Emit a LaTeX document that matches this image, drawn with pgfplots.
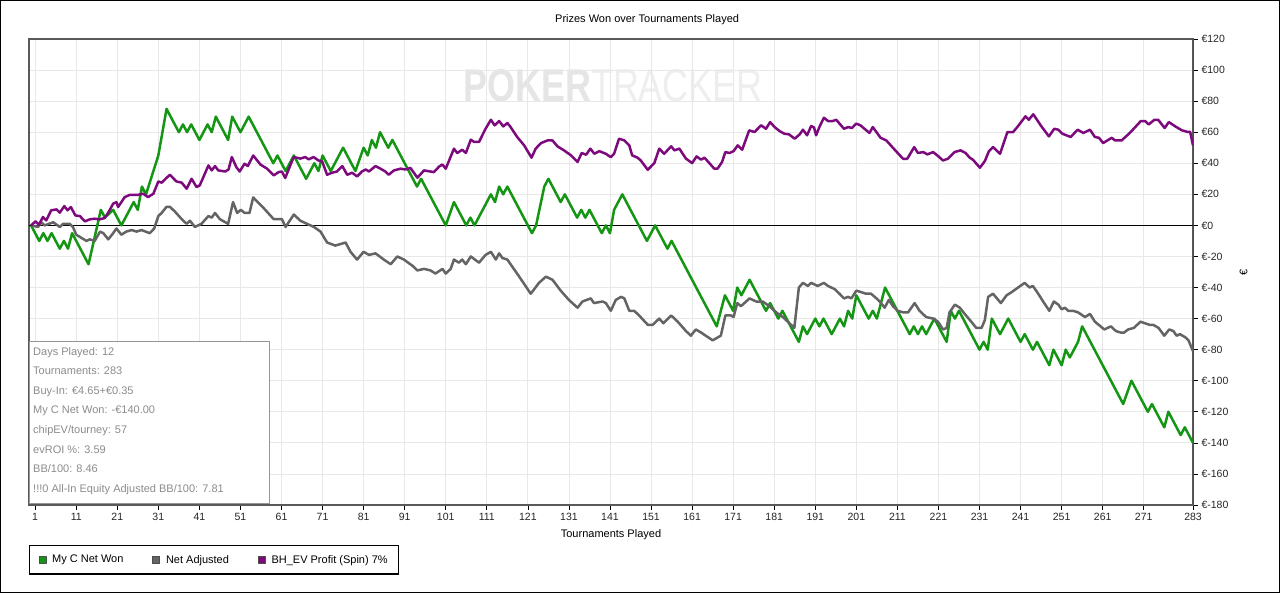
\documentclass[border=0pt]{standalone}
\usepackage{fontspec}
\setmainfont{Liberation Sans}
\usepackage{pgfplots}
\pgfplotsset{compat=1.18}
\definecolor{mygreen}{RGB}{20,150,20}
\definecolor{mygray}{RGB}{100,100,100}
\definecolor{mypurple}{RGB}{125,10,125}
\definecolor{gridgray}{RGB}{232,232,232}
\definecolor{infogray}{RGB}{140,140,140}
\begin{document}
\begin{tikzpicture}
\useasboundingbox (0pt,0pt) rectangle (1280pt,593pt);
\fill[white] (0pt,0pt) rectangle (1280pt,593pt);
\node[anchor=center, inner sep=0pt, xscale=0.78] at (613pt,507pt)
  {\fontsize{46}{46}\selectfont\textcolor[RGB]{229,229,229}{\bfseries POKER}\textcolor[RGB]{238,238,238}{TRACKER}};
\begin{axis}[
  at={(29pt,88pt)}, anchor=south west,
  scale only axis, width=1164pt, height=466pt,
  xmin=-0.5, xmax=283, ymin=-180, ymax=120,
  xtick={1,11,21,31,41,51,61,71,81,91,101,111,121,131,141,151,161,171,181,191,201,211,221,231,241,251,261,271,283},
  ytick={-180,-160,-140,-120,-100,-80,-60,-40,-20,0,20,40,60,80,100,120},
  yticklabels={€-180,€-160,€-140,€-120,€-100,€-80,€-60,€-40,€-20,€0,€20,€40,€60,€80,€100,€120},
  /pgf/number format/assume math mode=true,
  xtick pos=left, ytick pos=right, yticklabel pos=right,
  tick align=outside, major tick length=5pt,
  tick style={black, line width=0.7pt},
  xmajorgrids, ymajorgrids,
  major grid style={gridgray, line width=0.8pt},
  axis line style={draw=black!65, line width=1.2pt},
  tick label style={font=\fontsize{10.5}{12}\selectfont, text=black!85},
  title={Prizes Won over Tournaments Played},
  every axis title/.style={at={(axis description cs:0.531,1.0408)}, anchor=center, font=\fontsize{11}{13}\selectfont},
  xlabel={Tournaments Played},
  every axis x label/.style={at={(axis description cs:0.5,-0.0644)}, anchor=center, font=\fontsize{11}{13}\selectfont},
  ylabel={€},
  every axis y label/.style={at={(axis description cs:1.0434,0.5)}, anchor=center, rotate=90, font=\fontsize{11}{13}\selectfont},
  legend style={at={(axis description cs:0,-0.0858)}, anchor=north west, legend columns=3,
    draw=black, line width=1.2pt, font=\fontsize{11}{13}\selectfont, inner ysep=7.5pt, inner xsep=9pt,
    /tikz/every even column/.append style={column sep=27pt}},
  legend cell align=left,
  legend image code/.code={\filldraw[#1, line width=0.6pt, draw=black!70] (0pt,-3.5pt) rectangle (7pt,3.5pt); \path (10pt,0pt);},
]
\addplot[black, line width=0.8pt, forget plot] coordinates {(-0.5,0) (283,0)};
\addplot[mygreen, line width=2.5pt, line join=round] coordinates {
(0,0)(2,-10)(3,-5)(4,-10)(5,-5)(7,-15)(8,-10)(9,-15)(10,-5)(11,-10)(14,-25)(17,10)(18,5)(20,10)(22,0)(25,15)(26,10)(27,25)(28,20)(31,45)(33,75)(36,60)(37,65)(38,60)(39,65)(41,55)(43,65)(44,60)(45,70)(48,55)(49,70)(51,60)(53,70)(59,40)(60,45)(62,35)(64,45)(67,30)(69,40)(70,35)(71,45)(73,35)(76,50)(79,35)(81,50)(82,45)(83,55)(84,50)(85,60)(87,50)(88,55)(94,25)(95,30)(101,0)(103,15)(106,0)(107,5)(108,0)(112,20)(113,15)(114,25)(115,20)(116,25)(122,-5)(123,0)(125,25)(126,30)(129,15)(130,20)(133,5)(134,10)(135,5)(136,10)(139,-5)(140,0)(141,-5)(142,10)(144,20)(150,-10)(152,0)(155,-15)(156,-10)(167,-65)(169,-45)(171,-55)(172,-40)(173,-45)(175,-35)(178,-50)(179,-55)(180,-50)(182,-60)(183,-55)(187,-75)(188,-65)(189,-70)(191,-60)(192,-65)(193,-60)(195,-70)(197,-60)(198,-65)(199,-55)(200,-60)(201,-45)(204,-60)(205,-55)(206,-60)(208,-40)(214,-70)(215,-65)(216,-70)(217,-65)(218,-70)(220,-60)(223,-75)(224,-55)(225,-60)(226,-55)(231,-80)(232,-75)(233,-80)(234,-60)(236,-70)(238,-60)(241,-75)(242,-70)(244,-80)(245,-75)(248,-90)(249,-80)(251,-90)(252,-80)(253,-85)(255,-75)(256,-65)(266,-115)(268,-100)(272,-120)(273,-115)(276,-130)(277,-120)(280,-135)(281,-130)(283,-140)
};
\addlegendentry{My C Net Won}
\addplot[mygray, line width=2.5pt, line join=round] coordinates {
(0,0)(1.7,-1)(2.5,2)(3.3,0)(5.4,2)(7,-1)(7.8,1)(9.4,1)(10.2,-1)(11,-6)(13.5,-10)(14.3,-9)(15.5,-10)(16.8,-4)(17.6,-5)(18.8,-9)(20,-5)(20.8,-2)(22,-6)(23.2,-4)(24.5,-3)(25.7,-4)(26.9,-3)(28.9,-5)(30,-2)(31,6)(31.8,8)(33,12)(33.8,12)(35,9)(36.7,4)(37.9,1)(38.7,3)(39.9,-1)(41.5,1)(43.2,6)(44,5)(44.8,8)(46,4)(48,1)(49.2,15)(50.2,8)(51.1,10)(52,8)(53.2,8)(54.1,18)(56.7,11)(59.1,4)(61.1,4)(62,-1)(64,7)(65.6,3)(67.2,1)(68.9,-1)(70.5,-4)(72.1,-11)(74.1,-13)(75.4,-12)(76.6,-11)(77.8,-17)(79.4,-22)(81,-17)(82.3,-19)(83.9,-18)(85.9,-22)(87.6,-25)(89.2,-20)(90.8,-22)(92.9,-26)(94.1,-29)(95.7,-28)(97.3,-29)(98.5,-31)(100.2,-28)(101,-31)(102.2,-28)(103,-22)(104.2,-24)(105,-22)(105.9,-25)(107.1,-20)(109.1,-24)(110.7,-19)(112,-17)(113.2,-22)(114,-18)(114.8,-21)(116,-22)(118.9,-33)(121.7,-44)(123.7,-37)(125.4,-33)(127,-35)(129,-42)(131,-48)(133.1,-53)(134.3,-49)(136.3,-47)(137.1,-50)(139.2,-49)(140,-50)(141.2,-55)(142.4,-48)(143.7,-46)(144.5,-47)(145.7,-55)(146.9,-55)(148.1,-58)(150.2,-64)(151.4,-64)(153,-60)(154,-63)(155.9,-58)(157.5,-62)(159.5,-68)(160.7,-71)(161.9,-67)(163.2,-69)(166,-74)(168,-71)(169.1,-58)(170.5,-58)(171.1,-59)(172,-50)(172.9,-52)(175,-47)(176.6,-49)(178.2,-49)(179.8,-52)(181.5,-56)(183.1,-59)(185.9,-66)(187,-40)(188,-37)(189.2,-39)(190,-37)(191.6,-39)(193.1,-37)(194.1,-39)(195.7,-41)(196.9,-44)(198,-47)(199,-46)(199.8,-47)(201,-42)(202.2,-43)(203.4,-44)(204.6,-44)(205.9,-47)(206.7,-49)(207.9,-53)(208.9,-48)(209.9,-52)(211.1,-55)(212.4,-56)(213.6,-56)(215.2,-50)(216.4,-55)(218,-59)(219.7,-60)(220.9,-62)(222.1,-67)(223,-66)(223.7,-56)(225,-51)(226.2,-53)(227.4,-57)(229,-62)(230.2,-66)(231.5,-66)(232.3,-61)(233.1,-46)(234.3,-44)(236.2,-50)(237.6,-45)(238.8,-43)(240.4,-40)(242,-37)(243.2,-40)(244,-39)(245.3,-44)(246.5,-49)(248,-55)(249.1,-49)(250.2,-51)(251,-54)(251.8,-53)(252.6,-55)(253.8,-55)(255,-56)(256.7,-59)(257.9,-57)(259.1,-62)(261.4,-67)(263,-65)(264.2,-68)(265.4,-69)(266.2,-69)(267.2,-67)(268.6,-66)(270.2,-62)(271.3,-63)(272.4,-64)(273.3,-64)(274.6,-66)(276,-71)(277.2,-67)(278.2,-68)(279,-71)(279.8,-70)(281.1,-72)(281.9,-74)(283,-81)
};
\addlegendentry{Net Adjusted}
\addplot[mypurple, line width=2.5pt, line join=round] coordinates {
(0,0)(1.1,2.6)(1.9,0.4)(2.9,5.4)(3.7,3.2)(4.9,9.7)(6.2,10.3)(7,8.2)(8.1,12.4)(8.9,9.7)(9.7,11.8)(10.8,6.4)(11.9,6)(13.1,2.6)(14.3,3.9)(15.5,4.3)(16.7,3.9)(17.9,4.7)(18.8,8.2)(20,14)(20.8,15)(21.2,11.8)(22.8,18.2)(24.1,19.7)(26.1,19.7)(27.3,20.4)(28.5,18.2)(29.8,20.4)(31,28.3)(31.8,27.5)(33.8,32.6)(35.4,28.3)(36.7,27.5)(37.9,23.6)(39.1,30)(40.3,24.7)(41.1,25.8)(43.2,38.6)(44,35.4)(44.8,38.2)(45.6,35.4)(47.3,34.7)(48.1,36)(48.9,44)(50,37.5)(50.8,34.7)(52,39.7)(52.8,38.2)(54.1,45)(55.9,39.1)(57.5,36.5)(59.1,32.2)(60.3,34.3)(61.1,34.7)(61.9,30.5)(63.2,39.1)(64,44)(65.6,43)(66.8,44)(67.6,42.5)(68.8,44)(70,41.8)(70.9,41.2)(72.1,32.6)(73.3,33.9)(74.5,34.7)(75.8,38.2)(77,32.6)(78.2,33.9)(79.4,31.5)(80.6,34.7)(81.5,36)(82.3,34.7)(83.9,38.2)(85.1,36.5)(86.3,34.7)(87.1,32.6)(88.4,35.4)(90,36.5)(91.2,36)(92.4,37)(94.1,30.7)(95.7,35.4)(98.1,34.3)(99.4,37.9)(100.2,39.2)(101,36.5)(103,49.4)(103.8,46.6)(105,48.7)(105.9,46.6)(107.1,55.2)(107.9,53.7)(109.1,53.7)(110.7,62.2)(112,68)(112.9,64.4)(114,67.2)(115,63.7)(116,65.9)(116.8,63.3)(118.4,56.9)(120.1,51.5)(121.9,43.6)(122.9,49.4)(124.2,53)(125.8,54.7)(127,54.7)(128.2,50.9)(129.8,48.3)(131.5,45.1)(133.1,40.8)(134.1,46.6)(135.2,45.5)(136.2,49.4)(137.2,46.1)(138.4,47.8)(140,46.1)(141.2,43.9)(142,46.1)(143.2,55.8)(144.5,54.7)(145.7,51.5)(146.4,45.1)(147.7,43.6)(148.5,41.8)(150.2,35.8)(151.8,40.1)(153,49.4)(154.2,46.1)(155.9,50.9)(156.7,48.3)(157.9,49.4)(159.5,43)(161,40.1)(162.1,44.4)(163.2,42.3)(164,43.6)(165.2,40.1)(166.4,36.5)(167.2,36.5)(168.3,40.8)(169.1,47.2)(170.1,46.6)(171.1,47.8)(172.1,51.5)(173.2,48.7)(174.9,61.2)(176.2,60.1)(177.8,64.4)(179,62.2)(180,66.5)(181.1,63.3)(182.3,60.7)(183.5,59)(184.6,58.6)(186,55.8)(187.2,58.6)(188,61.6)(189,58)(190,64)(190.7,63)(191.2,58)(192,63.3)(193.1,69.3)(194.1,67.2)(195.3,67.2)(196.1,68)(198,62.2)(199,63.3)(199.9,62.7)(201,65.5)(202,64.4)(204.2,59.5)(205,63.3)(206.9,56.4)(208.3,54.7)(209.9,50)(211.6,45.1)(212.4,42.9)(213.4,42.9)(215.1,50.4)(216,46.6)(217.3,47.2)(218.3,45.7)(219.7,47.2)(220.7,45.1)(222.1,41.8)(223.3,42.9)(224.9,47.2)(226.4,48.3)(227.6,46.6)(228.6,43.6)(229.4,42.3)(231.1,37.1)(232.3,41.4)(233.3,47.8)(234.3,50.4)(236,46.1)(237.8,60.1)(239.2,60.1)(240.2,63.3)(242.2,70.2)(243,68)(244.1,71.5)(245.9,64.4)(247.9,57.3)(249.2,62.2)(250.2,61.6)(251.2,59)(253.2,56.9)(254.9,61.6)(256.3,59.5)(257.9,61.6)(259.1,56.9)(260.1,56.4)(261.1,53)(263.2,56.4)(264,54.7)(265.6,54.7)(267.6,59.5)(270.3,67.2)(271.3,67.2)(272.2,65)(273.6,68)(274.5,68)(276.1,62.7)(277.1,66.5)(278.7,63.7)(280.3,61.2)(281.8,60.1)(282.3,60.3)(283,51.5)
};
\addlegendentry{BH\_EV Profit (Spin) 7\%}
\draw[black, line width=0.8pt] (rel axis cs:0,0) -- (rel axis cs:1,0) -- (rel axis cs:1,1);
\end{axis}
\node[draw={rgb,255:red,150;green,150;blue,150}, line width=1.3pt, fill=white, anchor=north west,
  minimum width=240pt, minimum height=162pt, inner sep=0pt] at (29pt,252pt) {};
\node[anchor=north west, align=left, inner sep=0pt, text=infogray,
  font=\fontsize{11}{19.57}\selectfont] at (33pt,246pt)
  {Days Played: 12\\Tournaments: 283\\Buy-In: €4.65+€0.35\\My C Net Won: -€140.00\\chipEV/tourney: 57\\evROI \%: 3.59\\BB/100: 8.46\\!!!0 All-In Equity Adjusted BB/100: 7.81};
\draw[black, line width=1pt] (0.5pt,0.5pt) rectangle (1279.5pt,592.5pt);
\end{tikzpicture}
\end{document}
